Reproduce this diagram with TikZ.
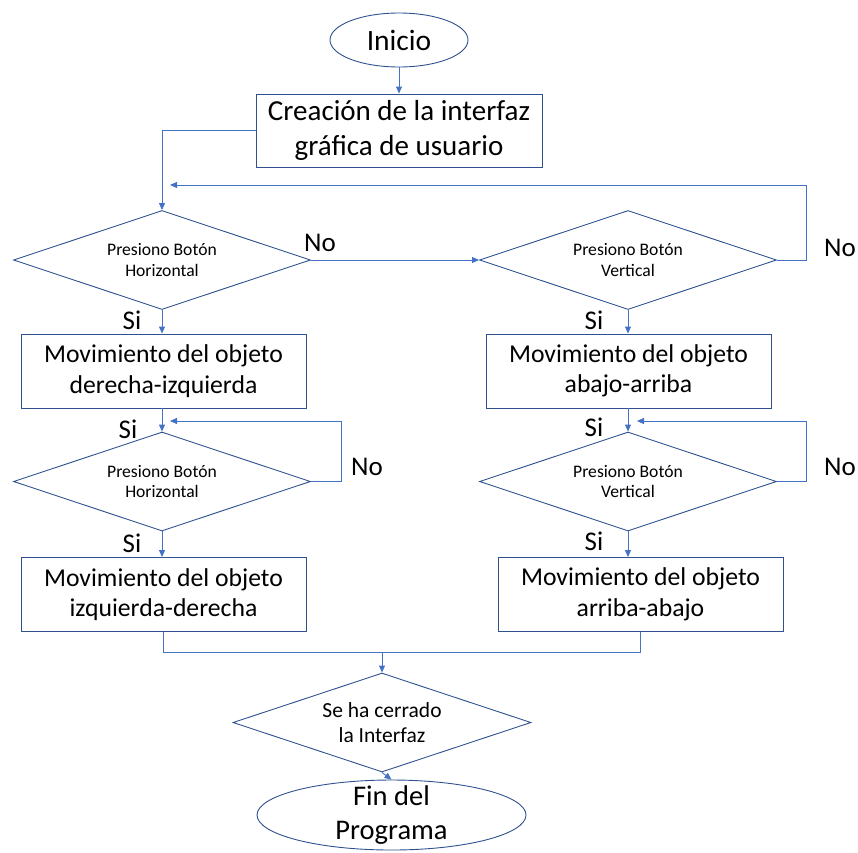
\documentclass[tikz,border=0pt]{standalone}
\usepackage{fontspec}
\setmainfont{Carlito}
\usetikzlibrary{shapes.geometric,arrows.meta}
\definecolor{lnblue}{HTML}{4472C4}
\definecolor{edblue}{HTML}{2F528F}
\begin{document}
\begin{tikzpicture}[x=1pt,y=-1pt,
  shp/.style={draw=edblue,line width=0.9pt,inner sep=0pt,align=center},
  boxn/.style={shp,rectangle,minimum width=285pt,minimum height=74pt},
  dia/.style={shp,diamond,shape aspect=3,minimum width=297pt,minimum height=99pt},
  ell/.style={shp,ellipse},
  con/.style={draw=lnblue,line width=0.9pt},
  arr/.style={con,-{Triangle[length=7pt,width=6pt]}},
  lbl/.style={font=\fontsize{27}{30}\selectfont,inner sep=0pt},
  big/.style={font=\fontsize{29}{35}\selectfont},
  mid/.style={font=\fontsize{25.7}{30.5}\selectfont},
  small/.style={font=\fontsize{17.6}{20.5}\selectfont},
  dtext/.style={font=\fontsize{21.5}{25}\selectfont},
]
\useasboundingbox (0,0) rectangle (858,852);
\node[ell,minimum width=138pt,minimum height=54pt,font=\fontsize{29.5}{34}\selectfont] (ini) at (399,40) {Inicio};
\node[boxn,minimum width=286pt,minimum height=73pt,big] (crea) at (399,130.5) {Creación de la interfaz\\gráfica de usuario};
\node[dia,small] (d1) at (162,260) {Presiono Botón\\Horizontal};
\node[dia,small] (d2) at (628,260) {Presiono Botón\\Vertical};
\node[boxn,mid] (m1) at (163.5,371) {Movimiento del objeto\\derecha-izquierda};
\node[boxn,mid] (m2) at (628.5,371) {Movimiento del objeto\\abajo-arriba};
\node[dia,small] (d3) at (162,481.5) {Presiono Botón\\Horizontal};
\node[dia,small] (d4) at (628,481.5) {Presiono Botón\\Vertical};
\node[boxn,mid] (m3) at (163.5,594.5) {Movimiento del objeto\\izquierda-derecha};
\node[boxn,mid] (m4) at (640.5,594.5) {Movimiento del objeto\\arriba-abajo};
\node[dia,dtext,minimum width=298pt] (d5) at (382,722.5) {Se ha cerrado\\la Interfaz};
\node[ell,minimum width=269pt,minimum height=70pt] (fin) at (391.5,815) {};
\node[font=\fontsize{28.5}{34}\selectfont,align=center,inner sep=0pt] (fintxt) at (fin.center) {Fin del\\Programa};

\coordinate (lp1) at (806,185);
\coordinate (lp1e) at (170,185);
\coordinate (lp3) at (341,421);
\coordinate (lp3e) at (170,421);
\coordinate (lp4) at (806,421);
\coordinate (lp4e) at (637,421);
\coordinate (mg) at (382,652);

\draw[arr] (ini) -- (crea);
\draw[arr] (crea.west) -| (d1.north);
\draw[arr] (d1.east) -- (d2.west);
\draw[arr] (d2.east) -| (lp1) -- (lp1e);
\draw[arr] (d1.south) -- (d1.south |- m1.north);
\draw[arr] (d2.south) -- (d2.south |- m2.north);
\draw[arr] (d3.north |- m1.south) -- (d3.north);
\draw[arr] (d4.north |- m2.south) -- (d4.north);
\draw[arr] (d3.east) -| (lp3) -- (lp3e);
\draw[arr] (d4.east) -| (lp4) -- (lp4e);
\draw[arr] (d3.south) -- (d3.south |- m3.north);
\draw[arr] (d4.south) -- (d4.south |- m4.north);
\draw[con] (m3.south) -- (m3.south |- mg) -- (m4.south |- mg) -- (m4.south);
\draw[arr] (mg) -- (d5.north);
\draw[arr] (d5.south) -- (fin.north);

\node[lbl] (no1) at (320,243) {No};
\node[lbl] (no2) at (840,248) {No};
\node[lbl] (no3) at (367,467) {No};
\node[lbl] (no4) at (840,467) {No};
\node[lbl] (si1) at (132,320) {Si};
\node[lbl] (si2) at (594,320) {Si};
\node[lbl] (si3) at (128,429) {Si};
\node[lbl] (si4) at (594,427) {Si};
\node[lbl] (si5) at (132,543) {Si};
\node[lbl] (si6) at (594,541) {Si};
\end{tikzpicture}
\end{document}
